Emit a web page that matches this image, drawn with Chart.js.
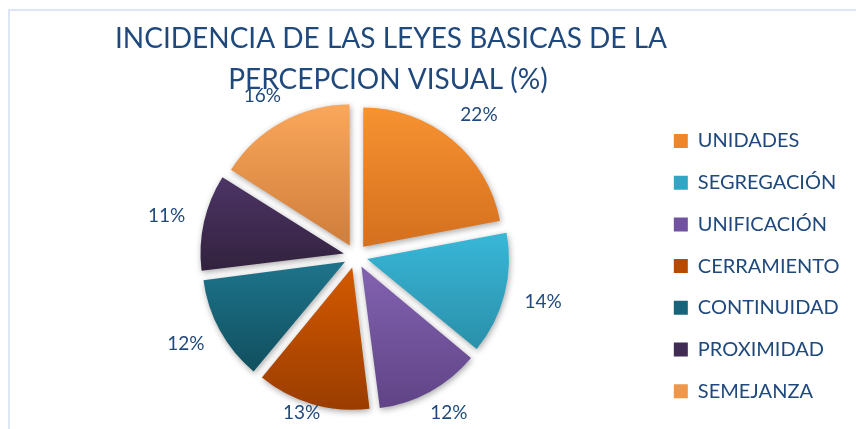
<!DOCTYPE html>
<html>
<head>
<meta charset="utf-8">
<script src="https://cdn.jsdelivr.net/npm/chart.js@4.4.0/dist/chart.umd.min.js"></script>
<style>
  html, body { margin: 0; padding: 0; background: #fff; }
  #wrap { width: 856px; height: 429px; position: relative; }
</style>
</head>
<body>
<div id="wrap"><canvas id="myChart" width="856" height="429"></canvas></div>
<script>
const labels = ['UNIDADES', 'SEGREGACIÓN', 'UNIFICACIÓN', 'CERRAMIENTO', 'CONTINUIDAD', 'PROXIMIDAD', 'SEMEJANZA'];
const values = [22, 14, 12, 13, 12, 11, 16];
const titleLines = ['INCIDENCIA DE LAS LEYES BASICAS DE LA', 'PERCEPCION VISUAL (%)'];

// gradient colours per slice: top -> bottom
const topColors = ['#fa9533', '#38b6d7', '#8060ae', '#cf5700', '#1d7289', '#4d3566', '#fdaa5d'];
const bottomColors = ['#d6711f', '#2a8fa9', '#5e4284', '#973b00', '#104e5d', '#33223f', '#d2803d'];
const midColors = ['#f0862a', '#31a6c4', '#7052a0', '#b84a00', '#17637a', '#402c55', '#ef9648'];

const textColor = '#1f497d';

const slicePlugin = {
  id: 'slicePlugin',
  beforeDraw(chart) {
    const c = chart.ctx;
    c.save();
    c.fillStyle = '#dde6f4';
    c.fillRect(8, 9, 848, 2);
    c.fillRect(8, 9, 2, 420);
    c.restore();
  },
  beforeDatasetsDraw(chart) {
    const meta = chart.getDatasetMeta(0);
    const c = chart.ctx;
    meta.data.forEach((arc, i) => {
      const p = arc.getProps(['x', 'y', 'startAngle', 'endAngle', 'outerRadius'], true);
      const off = (arc.options.offset || 0) / 4;
      const R = p.outerRadius;
      const mid = (p.startAngle + p.endAngle) / 2;
      const cx = p.x + Math.cos(mid) * off;
      const cy = p.y + Math.sin(mid) * off;
      let ys = [cy, cy + Math.sin(p.startAngle) * R, cy + Math.sin(p.endAngle) * R];
      [Math.PI / 2, -Math.PI / 2, Math.PI * 1.5].forEach(a => {
        if (a > p.startAngle && a < p.endAngle) ys.push(cy + Math.sin(a) * R);
      });
      const y0 = Math.min(...ys), y1 = Math.max(...ys);
      const g = c.createLinearGradient(0, y0, 0, y1);
      g.addColorStop(0, topColors[i]);
      g.addColorStop(1, bottomColors[i]);
      arc.options.backgroundColor = g;
    });
    c.save();
    c.shadowColor = 'rgba(0,0,0,0.35)';
    c.shadowBlur = 6;
    c.shadowOffsetX = 1;
    c.shadowOffsetY = 2;
  },
  afterDatasetsDraw(chart) {
    const c = chart.ctx;
    c.restore();
    // title
    c.save();
    c.fillStyle = textColor;
    c.textAlign = 'center';
    c.textBaseline = 'alphabetic';
    c.font = '28px Lato';
    c.fillText(titleLines[0], 391, 48);
    c.fillText(titleLines[1], 388, 89);
    // percentage labels, box placed just outside the slice
    const meta = chart.getDatasetMeta(0);
    const total = values.reduce((a, b) => a + b, 0);
    c.font = '19px Lato';
    c.textBaseline = 'middle';
    meta.data.forEach((arc, i) => {
      const p = arc.getProps(['x', 'y', 'startAngle', 'endAngle', 'outerRadius'], true);
      const mid = (p.startAngle + p.endAngle) / 2;
      const r = p.outerRadius + 36;
      const pct = Math.round(values[i] / total * 100) + '%';
      const w = c.measureText(pct).width;
      const h = 16;
      const lx = p.x + Math.cos(mid) * r + Math.cos(mid) * w / 2;
      let ly = p.y + Math.sin(mid) * r + Math.sin(mid) * h / 2;
      ly = Math.min(ly, chart.height - 16);   // keep inside the frame
      c.fillText(pct, lx, ly);
    });
    c.restore();
  }
};

const ctx = document.getElementById('myChart');

let myChart = new Chart(ctx, {
  type: 'pie',
  data: {
    labels: labels,
    datasets: [{
      data: values,
      backgroundColor: (context) => midColors[context.dataIndex],
      borderWidth: 0,
      offset: 48,
      radius: 139
    }]
  },
  options: {
    responsive: false,
    animation: false,
    layout: {
      padding: { top: 0, bottom: 0, left: 59, right: 6.5 }
    },
    plugins: {
      tooltip: { enabled: false },
      // empty title only reserves the space; the text is drawn by slicePlugin
      title: { display: true, text: '', font: { size: 10 }, padding: { top: 71, bottom: 0 } },
      legend: {
        position: 'right',
        align: 'start',
        title: { display: true, text: '', padding: { top: 97.3, bottom: 0 }, font: { size: 10 } },
        labels: {
          color: textColor,
          boxWidth: 14,
          boxHeight: 14,
          padding: 21.7,
          font: { family: 'Lato', size: 20 }
        }
      }
    }
  },
  plugins: [slicePlugin]
});
</script>
</body>
</html>
